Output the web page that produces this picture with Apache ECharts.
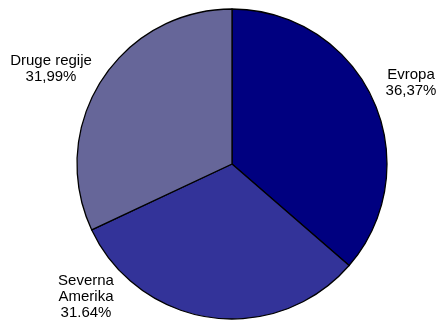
<!DOCTYPE html>
<html>
<head>
<meta charset="utf-8">
<script src="https://cdn.jsdelivr.net/npm/echarts@6/dist/echarts.min.js"></script>
<style>
html,body{margin:0;padding:0;background:#fff;}
#c{width:439px;height:320px;}
</style>
</head>
<body>
<div id="c"></div>
<script>
const categories = ['Evropa', 'Severna\nAmerika', 'Druge regije'];
const values = [36.37, 31.64, 31.99];
const labelTexts = ['36,37%', '31.64%', '31,99%'];

const colors = ['#000080', '#333399', '#666699'];
const labelPos = [[411, 83], [86, 297], [51, 69]];

const chart = echarts.init(document.getElementById('c'), null, {renderer: 'canvas'});
chart.setOption({
  backgroundColor: '#ffffff',
  animation: false,
  series: [{
    type: 'pie',
    center: [232, 164],
    radius: 155,
    startAngle: 90,
    clockwise: true,
    avoidLabelOverlap: false,
    data: categories.map((c, i) => ({
      name: c,
      value: values[i],
      itemStyle: {color: colors[i]}
    })),
    itemStyle: {borderColor: '#000000', borderWidth: 1.3},
    label: {
      show: true,
      position: 'outside',
      formatter: p => p.name + '\n' + labelTexts[p.dataIndex],
      fontFamily: 'Liberation Sans, Arial, sans-serif',
      fontSize: 15,
      lineHeight: 16,
      color: '#000',
      align: 'center'
    },
    labelLine: {show: false},
    labelLayout: p => ({
      x: labelPos[p.dataIndex][0],
      y: labelPos[p.dataIndex][1],
      align: 'center',
      verticalAlign: 'middle'
    }),
    emphasis: {disabled: true}
  }]
});
</script>
</body>
</html>
